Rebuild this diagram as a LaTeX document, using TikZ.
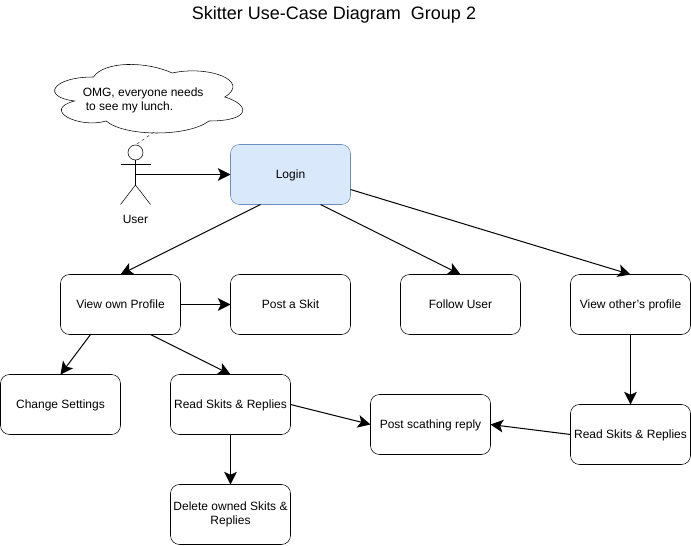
\documentclass[tikz,border=0pt]{standalone}
\usepackage{fontspec}
\setmainfont{Liberation Sans}
\usetikzlibrary{arrows.meta,calc}
\definecolor{loginfill}{HTML}{DAE8FC}
\definecolor{logindraw}{HTML}{6C8EBF}
\tikzset{
  usecase/.style={draw,rounded corners=6.75pt,minimum width=90pt,minimum height=45pt,
    inner sep=0pt,outer sep=0pt,align=center,text height=8.6pt,text depth=2pt,
    font=\fontsize{9}{10.5}\selectfont},
  conn/.style={-{Stealth[length=9.5pt,width=9.5pt,inset=2.25pt]},line width=0.75pt},
  plain/.style={font=\fontsize{9}{10.5}\selectfont,inner sep=0pt}
}
\begin{document}
\begin{tikzpicture}[x=0.75pt,y=-0.75pt]
\useasboundingbox (0,0) rectangle (691,545);
\node (title) at (334,15) {\fontsize{13.5}{16}\selectfont Skitter Use-Case Diagram\ \ Group 2};
% speech cloud
\draw[fill=white] (93.5,77) .. controls (51.5,77) and (41,97) .. (74.6,101)
  .. controls (41,109.8) and (78.8,129) .. (106.1,121)
  .. controls (125,137) and (188,137) .. (209,121)
  .. controls (251,121) and (251,105) .. (224.75,97)
  .. controls (251,81) and (209,65) .. (172.25,73)
  .. controls (146,61) and (104,61) .. (93.5,77) -- cycle;
\node[plain,align=left,anchor=north west] (cloudtext) at (82.5,87.5) {OMG, everyone needs\\\hspace*{2.25pt}to see my lunch.};
\coordinate (cloudtail) at (154,132);
% actor
\node[draw,circle,minimum size=11.25pt,inner sep=0pt,outer sep=0pt] (head) at (135.5,152.5) {};
\coordinate (neck) at (135.5,160);
\coordinate (hip) at (135.5,185);
\coordinate (armL) at (120.5,164.5);
\coordinate (armR) at (150.5,164.5);
\coordinate (footL) at (120.5,204.5);
\coordinate (footR) at (150.5,204.5);
\coordinate (actorport) at (135.5,174.5);
\draw (neck) -- (hip);
\draw (armL) -- (armR);
\draw (footL) -- (hip) -- (footR);
\draw[dash pattern=on 2.25pt off 2.25pt,black!75] (cloudtail) -- (head.north);
\node[plain] (user) at (135.5,219) {User};
% use cases
\node[usecase,fill=loginfill,draw=logindraw] (login) at (290.5,174.5) {Login};
\node[usecase] (ownprofile) at (120.5,304.5) {View own Profile};
\node[usecase] (postskit) at (290.5,304.5) {Post a Skit};
\node[usecase] (follow) at (460.5,304.5) {Follow User};
\node[usecase] (otherprofile) at (630.5,304.5) {View other's profile};
\node[usecase] (settings) at (60.5,404.5) {Change Settings};
\node[usecase] (readown) at (230.5,404.5) {Read Skits \& Replies};
\node[usecase,text height=17.3pt] (delete) at (230.5,514.5) {Delete owned Skits \&\\Replies};
\node[usecase] (scathing) at (430.5,424.5) {Post scathing reply};
\node[usecase] (readother) at (630.5,434.5) {Read Skits \& Replies};
% connectors
\draw[conn] (actorport) -- (login.west);
\draw[conn] ($(login.south)+(-30,0)$) -- (ownprofile.north);
\draw[conn] ($(login.south)+(30,0)$) -- (follow.north);
\draw[conn] ($(login.east)+(0,15)$) -- (otherprofile.north);
\draw[conn] (ownprofile) -- (postskit);
\draw[conn] ($(ownprofile.south)+(-30,0)$) -- (settings.north);
\draw[conn] ($(ownprofile.south)+(30,0)$) -- (readown.north);
\draw[conn] (readown) -- (delete);
\draw[conn] (readown.east) -- (scathing.west);
\draw[conn] (readother.west) -- (scathing.east);
\draw[conn] (otherprofile) -- (readother);
\end{tikzpicture}
\end{document}
